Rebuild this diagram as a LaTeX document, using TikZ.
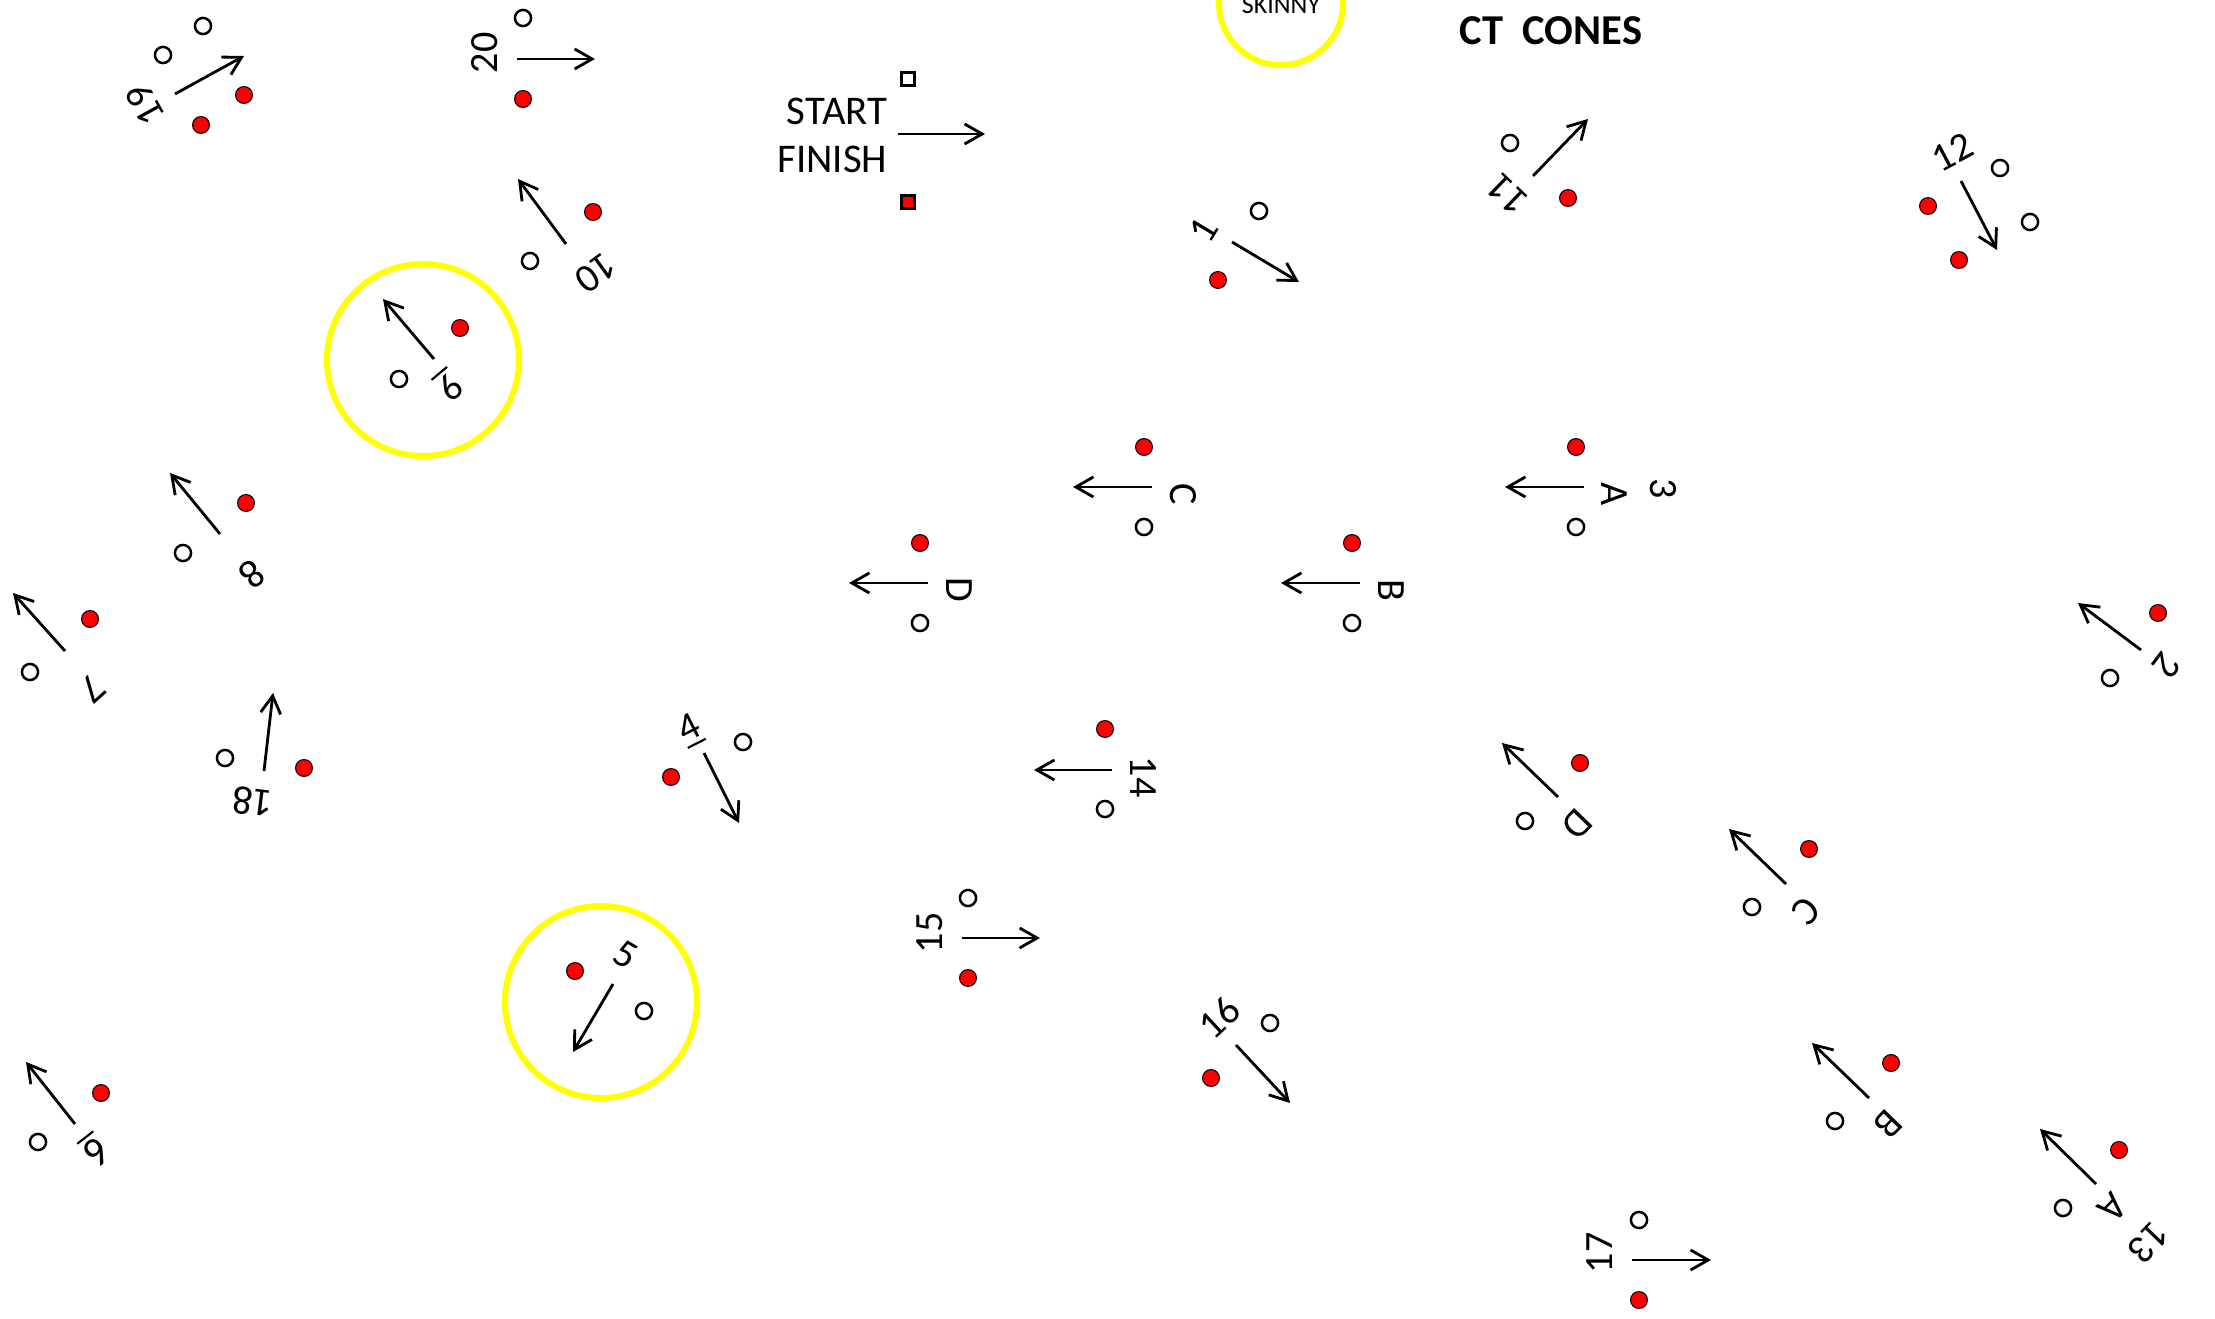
\documentclass[tikz,border=0pt]{standalone}
\usepackage{fontspec}
\setmainfont{Carlito}
\usetikzlibrary{arrows.meta}
\newcommand{\udig}[1]{\vtop{\hbox{#1}\kern1.2pt\hrule height0.6pt}}
\tikzset{
 rconeo/.style={circle,draw=black,line width=0.3pt,fill=red,inner sep=0pt,minimum size=4.8pt},
 wcone/.style={circle,draw=black,line width=0.7pt,fill=white,inner sep=0pt,minimum size=4.6pt},
 rsq/.style={rectangle,draw=black,line width=0.7pt,fill=red,inner sep=0pt,minimum size=3.7pt},
 wsq/.style={rectangle,draw=black,line width=0.7pt,fill=white,inner sep=0pt,minimum size=3.7pt},
 gatearrow/.style={line width=0.8pt,-{Straight Barb[length=5pt,width=5.7pt]}},
 glabel/.style={font=\fontsize{11.4}{13}\selectfont,inner sep=0pt},
 ring/.style={circle,draw={rgb,255:red,255;green,255;blue,0},line width=1.7pt,inner sep=0pt,minimum size=54.6pt}
}
\begin{document}
\begin{tikzpicture}[x=0.01cm,y=-0.01cm]
 \useasboundingbox (0,0) rectangle (2215,1319);
 \clip (0,0) rectangle (2215,1319);
 \node[ring,minimum size=35.3pt] (rskinny) at (1281,3) {};
 \node[ring] (r9) at (423,360) {};
 \node[ring] (r5) at (601,1002) {};
 \node[anchor=base,font=\fontsize{7.4}{9}\selectfont,inner sep=0pt] (tskinny) at (1281,14) {SKINNY};
 \node[anchor=base,font=\fontsize{12.1}{14}\selectfont\bfseries,inner sep=0pt] (tcones) at (1551,45) {CT\ \ CONES};
 \node[anchor=base east,font=\fontsize{11.6}{13}\selectfont,inner sep=0pt] (tstart) at (888,125) {START};
 \node[anchor=base east,font=\fontsize{11.6}{13}\selectfont,inner sep=0pt] (tfinish) at (888,173) {FINISH};
 \node[wsq] (wstart) at (908,79) {};
 \node[rsq] (rstart) at (908,202) {};
 \coordinate (sstart) at (898,134); \coordinate (estart) at (985,134);
 \draw[gatearrow] (sstart) -- (estart);
 % gates in course order
 \node[rconeo] (r1) at (1218,280) {}; \node[wcone] (w1) at (1259,211) {};
 \coordinate (s1) at (1232,242); \coordinate (e1) at (1299,282);
 \draw[gatearrow] (s1) -- (e1);
 \node[glabel,rotate=59] (l1) at (1204,230) {1};
 \node[rconeo] (r2) at (2158,613) {}; \node[wcone] (w2) at (2110,678) {};
 \coordinate (s2) at (2141,650); \coordinate (e2) at (2078,603);
 \draw[gatearrow] (s2) -- (e2);
 \node[glabel,rotate=233] (l2) at (2167,665) {2};
 \node[rconeo] (ra3) at (1576,447) {}; \node[wcone] (wa3) at (1576,527) {};
 \coordinate (sa3) at (1584,487); \coordinate (ea3) at (1505,487);
 \draw[gatearrow] (sa3) -- (ea3);
 \node[glabel,rotate=270] (la3) at (1614,494) {A};
 \node[glabel,rotate=270] (l3) at (1663,489) {3};
 \node[rconeo] (rb3) at (1352,543) {}; \node[wcone] (wb3) at (1352,623) {};
 \coordinate (sb3) at (1360,583); \coordinate (eb3) at (1281,583);
 \draw[gatearrow] (sb3) -- (eb3);
 \node[glabel,rotate=270] (lb3) at (1391,590) {B};
 \node[rconeo] (rc3) at (1144,447) {}; \node[wcone] (wc3) at (1144,527) {};
 \coordinate (sc3) at (1152,487); \coordinate (ec3) at (1073,487);
 \draw[gatearrow] (sc3) -- (ec3);
 \node[glabel,rotate=270] (lc3) at (1183,494) {C};
 \node[rconeo] (rd3) at (920,543) {}; \node[wcone] (wd3) at (920,623) {};
 \coordinate (sd3) at (928,583); \coordinate (ed3) at (849,583);
 \draw[gatearrow] (sd3) -- (ed3);
 \node[glabel,rotate=270] (ld3) at (959,590) {D};
 \node[rconeo] (r4) at (671,777) {}; \node[wcone] (w4) at (743,742) {};
 \coordinate (s4) at (704,753); \coordinate (e4) at (739,823);
 \draw[gatearrow] (s4) -- (e4);
 \node[glabel,rotate=27] (l4) at (690,730) {\udig{4}};
 \node[rconeo] (r5c) at (575,971) {}; \node[wcone] (w5) at (644,1011) {};
 \coordinate (s5) at (613,984); \coordinate (e5) at (573,1052);
 \draw[gatearrow] (s5) -- (e5);
 \node[glabel,rotate=-30] (l5) at (626,955) {5};
 \node[rconeo] (r6) at (101,1093) {}; \node[wcone] (w6) at (38,1142) {};
 \coordinate (s6) at (75,1124); \coordinate (e6) at (26,1062);
 \draw[gatearrow] (s6) -- (e6);
 \node[glabel,rotate=218] (l6) at (95,1150) {\udig{6}};
 \node[rconeo] (r7) at (90,619) {}; \node[wcone] (w7) at (30,672) {};
 \coordinate (s7) at (65,651); \coordinate (e7) at (13,593);
 \draw[gatearrow] (s7) -- (e7);
 \node[glabel,rotate=222] (l7) at (93,689) {7};
 \node[rconeo] (r8) at (246,503) {}; \node[wcone] (w8) at (183,553) {};
 \coordinate (s8) at (220,534); \coordinate (e8) at (170,473);
 \draw[gatearrow] (s8) -- (e8);
 \node[glabel,rotate=219] (l8) at (252,574) {8};
 \node[rconeo] (r9c) at (460,328) {}; \node[wcone] (w9) at (399,379) {};
 \coordinate (s9) at (434,359); \coordinate (e9) at (383,299);
 \draw[gatearrow] (s9) -- (e9);
 \node[glabel,rotate=220] (l9) at (449,385) {\udig{9}};
 \node[rconeo] (r10) at (593,212) {}; \node[wcone] (w10) at (530,261) {};
 \coordinate (s10) at (566,244); \coordinate (e10) at (518,179);
 \draw[gatearrow] (s10) -- (e10);
 \node[glabel,rotate=216] (l10) at (596,273) {10};
 \node[rconeo] (r11) at (1568,198) {}; \node[wcone] (w11) at (1510,143) {};
 \coordinate (s11) at (1533,176); \coordinate (e11) at (1588,119);
 \draw[gatearrow] (s11) -- (e11);
 \node[glabel,rotate=136] (l11) at (1508,195) {11};
 \node[rconeo] (r12a) at (1928,206) {}; \node[rconeo] (r12b) at (1959,260) {};
 \node[wcone] (w12a) at (2000,168) {}; \node[wcone] (w12b) at (2030,222) {};
 \coordinate (s12) at (1961,181); \coordinate (e12) at (1997,250);
 \draw[gatearrow] (s12) -- (e12);
 \node[glabel,rotate=28] (l12) at (1952,152) {12};
 \node[rconeo] (ra13) at (2119,1150) {}; \node[wcone] (wa13) at (2063,1208) {};
 \coordinate (sa13) at (2096,1184); \coordinate (ea13) at (2040,1129);
 \draw[gatearrow] (sa13) -- (ea13);
 \node[glabel,rotate=226] (la13) at (2113,1208) {A};
 \node[glabel,rotate=226] (l13) at (2149,1242) {13};
 \node[rconeo] (rb13) at (1891,1063) {}; \node[wcone] (wb13) at (1835,1121) {};
 \coordinate (sb13) at (1869,1098); \coordinate (eb13) at (1812,1043);
 \draw[gatearrow] (sb13) -- (eb13);
 \node[glabel,rotate=226] (lb13) at (1888,1124) {B};
 \node[rconeo] (rc13) at (1809,849) {}; \node[wcone] (wc13) at (1752,907) {};
 \coordinate (sc13) at (1786,884); \coordinate (ec13) at (1729,829);
 \draw[gatearrow] (sc13) -- (ec13);
 \node[glabel,rotate=226] (lc13) at (1806,911) {C};
 \node[rconeo] (rd13) at (1580,763) {}; \node[wcone] (wd13) at (1525,821) {};
 \coordinate (sd13) at (1558,797); \coordinate (ed13) at (1502,743);
 \draw[gatearrow] (sd13) -- (ed13);
 \node[glabel,rotate=226] (ld13) at (1577,824) {D};
 \node[rconeo] (r14) at (1105,729) {}; \node[wcone] (w14) at (1105,809) {};
 \coordinate (s14) at (1112,770); \coordinate (e14) at (1034,770);
 \draw[gatearrow] (s14) -- (e14);
 \node[glabel,rotate=270] (l14) at (1143,777) {14};
 \node[rconeo] (r15) at (968,978) {}; \node[wcone] (w15) at (968,898) {};
 \coordinate (s15) at (962,938); \coordinate (e15) at (1040,938);
 \draw[gatearrow] (s15) -- (e15);
 \node[glabel,rotate=90] (l15) at (930,933) {15};
 \node[rconeo] (r16) at (1211,1078) {}; \node[wcone] (w16) at (1270,1023) {};
 \coordinate (s16) at (1236,1045); \coordinate (e16) at (1290,1103);
 \draw[gatearrow] (s16) -- (e16);
 \node[glabel,rotate=43] (l16) at (1219,1018) {16};
 \node[rconeo] (r17) at (1639,1300) {}; \node[wcone] (w17) at (1639,1220) {};
 \coordinate (s17) at (1632,1260); \coordinate (e17) at (1711,1260);
 \draw[gatearrow] (s17) -- (e17);
 \node[glabel,rotate=90] (l17) at (1600,1253) {17};
 \node[rconeo] (r18) at (304,768) {}; \node[wcone] (w18) at (225,758) {};
 \coordinate (s18) at (264,771); \coordinate (e18) at (273,693);
 \draw[gatearrow] (s18) -- (e18);
 \node[glabel,rotate=173] (l18) at (253,802) {18};
 \node[rconeo] (r19a) at (244,95) {}; \node[rconeo] (r19b) at (201,125) {};
 \node[wcone] (w19a) at (203,26) {}; \node[wcone] (w19b) at (163,55) {};
 \coordinate (s19) at (175,94); \coordinate (e19) at (244,56);
 \draw[gatearrow] (s19) -- (e19);
 \node[glabel,rotate=119] (l19) at (145,105) {19};
 \node[rconeo] (r20) at (523,99) {}; \node[wcone] (w20) at (523,18) {};
 \coordinate (s20) at (517,59); \coordinate (e20) at (595,59);
 \draw[gatearrow] (s20) -- (e20);
 \node[glabel,rotate=90] (l20) at (485,53) {20};
\end{tikzpicture}
\end{document}
